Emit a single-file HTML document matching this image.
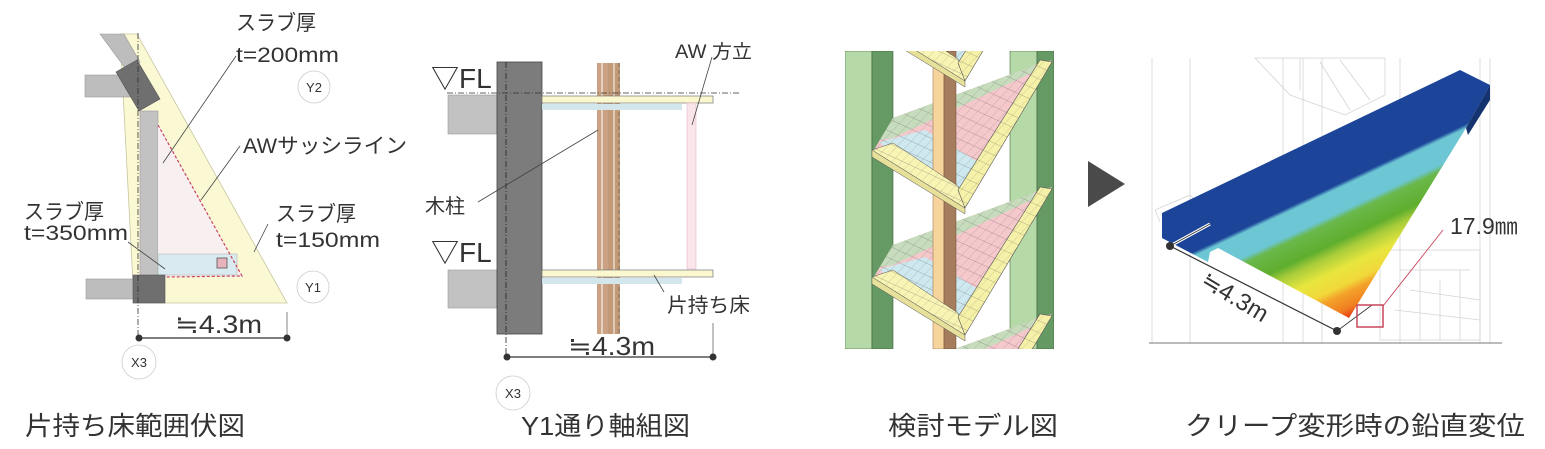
<!DOCTYPE html>
<html><head><meta charset="utf-8"><style>
html,body{margin:0;padding:0;background:#fff;}
svg{display:block;}
text{font-family:"Liberation Sans","Noto Sans CJK JP",sans-serif;fill:#333;}
</style></head><body>
<svg width="1545" height="449" viewBox="0 0 1545 449" xmlns="http://www.w3.org/2000/svg">
<defs>
<pattern id="mesh" width="9" height="9" patternUnits="userSpaceOnUse" patternTransform="skewX(-30) rotate(20)">
<path d="M0 0H9M0 0V9" stroke="#444" stroke-width="0.5" fill="none" opacity="0.55"/>
</pattern>
<linearGradient id="disp" gradientUnits="userSpaceOnUse" x1="1264" y1="137" x2="1349" y2="318">
<stop offset="0" stop-color="#1c4499"/><stop offset="0.37" stop-color="#1c4499"/>
<stop offset="0.39" stop-color="#6cc6d4"/><stop offset="0.5" stop-color="#6cc6d4"/>
<stop offset="0.53" stop-color="#6ab84a"/><stop offset="0.63" stop-color="#5fae2e"/>
<stop offset="0.68" stop-color="#a8cc3a"/><stop offset="0.76" stop-color="#e8e63e"/>
<stop offset="0.84" stop-color="#f1d83a"/><stop offset="0.88" stop-color="#f3a22a"/>
<stop offset="0.95" stop-color="#f08020"/><stop offset="1" stop-color="#e83818"/>
</linearGradient>
<clipPath id="c3"><rect x="845" y="51" width="209" height="298"/></clipPath>
</defs>

<!-- ===== Panel 1 ===== -->
<polygon points="120,34 137,34 287,303 134,303" fill="#fbf8d4" stroke="#c8c6a0" stroke-width="0.8"/>
<polygon points="100,34 124,34 140,62 128,72" fill="#bdbdbd" stroke="#999" stroke-width="0.6"/>
<rect x="85" y="75" width="50" height="22" fill="#bdbdbd" stroke="#999" stroke-width="0.6"/>
<polygon points="116,72 137,60 160,99 139,111" fill="#6f6f6f" stroke="#555" stroke-width="0.6"/>
<rect x="140" y="111" width="18" height="165" fill="#c2c2c2" stroke="#999" stroke-width="0.6"/>
<polygon points="158,123 243,277 158,277" fill="#f8eff1"/>
<rect x="158" y="254" width="79" height="21" fill="#d9eaf0" stroke="#aaa" stroke-width="0.5"/>
<rect x="217" y="258" width="10" height="10" fill="#e8b4bc" stroke="#555" stroke-width="0.8"/>
<polyline points="158,125 242,276 165,277" fill="none" stroke="#c8465c" stroke-width="1.2" stroke-dasharray="3,2"/>
<rect x="86" y="279" width="48" height="20" fill="#bdbdbd" stroke="#999" stroke-width="0.6"/>
<rect x="133" y="275" width="32" height="28" fill="#6f6f6f" stroke="#555" stroke-width="0.6"/>
<line x1="138" y1="33" x2="138" y2="340" stroke="#333" stroke-width="0.8" stroke-dasharray="6,2,1,2"/>
<g stroke="#444" stroke-width="0.8">
<line x1="236" y1="56" x2="163" y2="163"/>
<line x1="240" y1="146" x2="201" y2="200"/>
<line x1="268" y1="224" x2="254" y2="252"/>
<line x1="128" y1="242" x2="165" y2="269"/>
</g>
<line x1="139" y1="338" x2="287" y2="338" stroke="#333" stroke-width="1.2"/>
<line x1="287" y1="312" x2="287" y2="338" stroke="#666" stroke-width="0.8"/>
<circle cx="139" cy="338" r="3.5" fill="#333"/><circle cx="287" cy="338" r="3.5" fill="#333"/>
<text x="175" y="333" font-size="25" textLength="87" lengthAdjust="spacingAndGlyphs">≒4.3m</text>
<g fill="#fff" stroke="#ccc" stroke-width="0.8">
<circle cx="314" cy="87" r="16"/><circle cx="313" cy="287" r="16"/><circle cx="139" cy="362" r="17"/>
</g>
<text x="314" y="92" font-size="13" text-anchor="middle">Y2</text>
<text x="313" y="292" font-size="13" text-anchor="middle">Y1</text>
<text x="139" y="367" font-size="13" text-anchor="middle">X3</text>
<g font-size="21">
<text x="236" y="30" textLength="80" lengthAdjust="spacingAndGlyphs">スラブ厚</text>
<text x="236" y="62" textLength="103" lengthAdjust="spacingAndGlyphs">t=200mm</text>
<text x="243" y="153" textLength="164" lengthAdjust="spacingAndGlyphs">AWサッシライン</text>
<text x="276" y="221" textLength="80" lengthAdjust="spacingAndGlyphs">スラブ厚</text>
<text x="276" y="247" textLength="104" lengthAdjust="spacingAndGlyphs">t=150mm</text>
<text x="24" y="219" textLength="80" lengthAdjust="spacingAndGlyphs">スラブ厚</text>
<text x="24" y="240" textLength="104" lengthAdjust="spacingAndGlyphs">t=350mm</text>
</g>

<!-- ===== Panel 2 ===== -->
<rect x="448" y="95" width="49" height="39" fill="#c2c2c2" stroke="#999" stroke-width="0.6"/>
<rect x="448" y="270" width="49" height="38" fill="#c2c2c2" stroke="#999" stroke-width="0.6"/>
<rect x="497" y="62" width="45" height="272" fill="#7c7c7c" stroke="#444" stroke-width="0.8"/>
<line x1="506" y1="62" x2="506" y2="355" stroke="#222" stroke-width="0.8" stroke-dasharray="6,2,1,2"/>
<rect x="597" y="63" width="11" height="271" fill="#caa283"/>
<rect x="608" y="63" width="12" height="271" fill="#c39a78"/>
<line x1="602" y1="63" x2="602" y2="334" stroke="#e6d2c0" stroke-width="2"/>
<line x1="614" y1="63" x2="614" y2="334" stroke="#e0cbb8" stroke-width="2"/>
<line x1="619" y1="63" x2="619" y2="334" stroke="#555" stroke-width="0.6" stroke-dasharray="4,3"/>
<line x1="447" y1="93" x2="740" y2="93" stroke="#333" stroke-width="0.8" stroke-dasharray="6,2,1,2"/>
<rect x="542" y="96" width="171" height="7" fill="#fbf8d0" stroke="#777" stroke-width="0.7"/>
<rect x="542" y="104" width="140" height="6" fill="#d3e6ec"/>
<rect x="687" y="103" width="9" height="166" fill="#fae6ea" stroke="#e0b8c0" stroke-width="0.6"/>
<rect x="542" y="270" width="171" height="7" fill="#fbf8d0" stroke="#777" stroke-width="0.7"/>
<rect x="542" y="278" width="140" height="6" fill="#d3e6ec"/>
<g stroke="#444" stroke-width="0.8">
<line x1="478" y1="202" x2="598" y2="130"/>
<line x1="712" y1="57" x2="692" y2="125"/>
<line x1="664" y1="292" x2="654" y2="275"/>
</g>
<line x1="713" y1="323" x2="713" y2="357" stroke="#666" stroke-width="0.8"/>
<line x1="507" y1="357" x2="713" y2="357" stroke="#333" stroke-width="1.2"/>
<circle cx="507" cy="357" r="3.5" fill="#333"/><circle cx="713" cy="357" r="3.5" fill="#333"/>
<text x="568" y="355" font-size="26" textLength="87" lengthAdjust="spacingAndGlyphs">≒4.3m</text>
<circle cx="513" cy="393" r="17" fill="#fff" stroke="#ccc" stroke-width="0.8"/>
<text x="513" y="398" font-size="13" text-anchor="middle">X3</text>
<text x="431" y="88" font-size="28">▽FL</text>
<text x="431" y="262" font-size="28">▽FL</text>
<text x="675" y="58" font-size="19" textLength="77" lengthAdjust="spacingAndGlyphs">AW 方立</text>
<text x="425" y="213" font-size="20">木柱</text>
<text x="667" y="312" font-size="20" textLength="83" lengthAdjust="spacingAndGlyphs">片持ち床</text>

<!-- ===== Panel 3 ===== -->
<g clip-path="url(#c3)">
<rect x="845" y="51" width="27" height="298" fill="#b6d9a8" stroke="#4a6a40" stroke-width="0.6"/>
<rect x="872" y="51" width="21" height="298" fill="#669a64" stroke="#3f5f3c" stroke-width="0.6"/>
<rect x="1010" y="51" width="27" height="298" fill="#b6d9a8" stroke="#4a6a40" stroke-width="0.6"/>
<rect x="1037" y="51" width="17" height="298" fill="#669a64" stroke="#3f5f3c" stroke-width="0.6"/>
<g id="fl">
<polygon points="872,153 893,118 1033,66 1052,60 965,208" fill="#f5c8cc"/>
<polygon points="893,118 1033,66 1042,68 893,138 880,140" fill="#c6dcbc"/>
<polygon points="880,142 925,130 978,162 962,192 900,165" fill="#cde8ee"/>
<polygon points="872,153 893,118 1033,66 1052,60 965,208" fill="url(#mesh)"/>
</g>
<use href="#fl" y="-127"/><use href="#fl" y="127"/><use href="#fl" y="254"/>
<rect x="933" y="51" width="11" height="298" fill="#f7d49c" stroke="#8a6a48" stroke-width="0.5"/>
<rect x="944" y="51" width="12" height="298" fill="#a57d5c" stroke="#6a4a30" stroke-width="0.5"/>
<g id="ys">
<polygon points="872,150 965,208 965,214 872,157" fill="#e6e09a" stroke="#555" stroke-width="0.5"/>
<polygon points="872,150 893,143 958,186 965,208" fill="#f8f4b4" stroke="#555" stroke-width="0.5"/>
<polygon points="958,190 1040,60 1052,62 965,208" fill="#f6f1a8" stroke="#555" stroke-width="0.6"/>
<polygon points="872,150 893,143 958,186 965,208" fill="url(#mesh)"/>
<polygon points="958,190 1040,60 1052,62 965,208" fill="url(#mesh)"/>
</g>
<use href="#ys" y="-127"/><use href="#ys" y="127"/><use href="#ys" y="254"/>
</g>

<!-- arrow -->
<polygon points="1088,161 1125,184 1088,207" fill="#4a4a4a"/>

<!-- ===== Panel 4 ===== -->
<g stroke="#d4d4d4" stroke-width="0.8" fill="none">
<line x1="1152" y1="58" x2="1152" y2="343"/><line x1="1190" y1="58" x2="1190" y2="343"/>
<line x1="1283" y1="58" x2="1283" y2="343"/><line x1="1303" y1="58" x2="1303" y2="343"/>
<line x1="1322" y1="58" x2="1322" y2="343"/><line x1="1400" y1="58" x2="1400" y2="343"/>
<line x1="1480" y1="58" x2="1480" y2="343"/><line x1="1490" y1="58" x2="1490" y2="343"/>
<path d="M1255,58 L1385,58 L1385,95 L1345,115 L1290,95 Z M1300,58 L1300,90 M1320,62 L1350,110 M1340,60 L1370,100"/>
<path d="M1380,250 L1480,250 L1480,340 L1380,340 Z M1400,270 L1470,270 M1410,290 L1480,300 M1420,260 L1420,340 M1440,280 L1440,340 M1460,270 L1460,340 M1395,310 L1480,320"/>
<path d="M1155,210 L1190,195 L1200,205 M1155,210 L1160,222"/>
</g>
<polygon points="1162,213 1460,70 1490,85 1466,128 1349,318 1218,248 1210,252 1208,262 1185,250 1185,232 1162,225" fill="url(#disp)"/>
<polygon points="1490,85 1490,100 1468,135 1466,128" fill="#15346f"/>
<polygon points="1162,222 1185,232 1185,250 1162,238" fill="#1c4499"/>
<line x1="1149" y1="343" x2="1502" y2="343" stroke="#777" stroke-width="1"/>
<line x1="1170" y1="246" x2="1210" y2="224" stroke="#fff" stroke-width="3"/>
<line x1="1170" y1="246" x2="1210" y2="224" stroke="#333" stroke-width="0.8"/>
<line x1="1170" y1="246" x2="1337" y2="331" stroke="#333" stroke-width="1.2"/>
<line x1="1337" y1="331" x2="1372" y2="305" stroke="#333" stroke-width="0.8"/>
<circle cx="1170" cy="246" r="4" fill="#333"/><circle cx="1337" cy="331" r="4" fill="#333"/>
<text x="1235" y="305" font-size="24" text-anchor="middle" transform="rotate(31 1235 297)">≒4.3m</text>
<line x1="1443" y1="230" x2="1383" y2="306" stroke="#c8465c" stroke-width="0.9"/>
<rect x="1357" y="305" width="26" height="22" fill="none" stroke="#c8465c" stroke-width="1.5"/>
<text x="1450" y="234" font-size="23">17.9㎜</text>

<!-- captions -->
<g font-size="26">
<text x="25" y="435" textLength="220" lengthAdjust="spacingAndGlyphs">片持ち床範囲伏図</text>
<text x="521" y="435" textLength="169" lengthAdjust="spacingAndGlyphs">Y1通り軸組図</text>
<text x="888" y="435" textLength="170" lengthAdjust="spacingAndGlyphs">検討モデル図</text>
<text x="1185" y="435" textLength="340" lengthAdjust="spacingAndGlyphs">クリープ変形時の鉛直変位</text>
</g>
</svg>
</body></html>
